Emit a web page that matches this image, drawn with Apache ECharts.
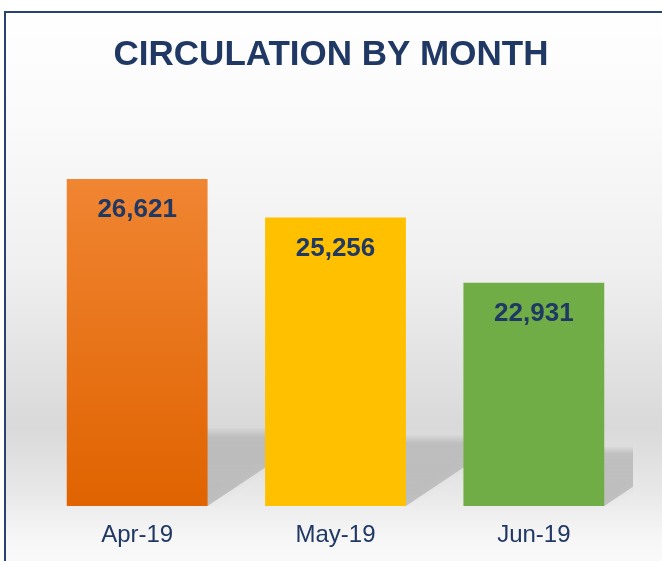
<!DOCTYPE html>
<html>
<head>
<meta charset="utf-8">
<style>
  html, body { margin: 0; padding: 0; background: #fff; }
  #chart { width: 662px; height: 561px; }
</style>
<script src="https://cdn.jsdelivr.net/npm/echarts@6/dist/echarts.min.js"></script>
</head>
<body>
<div id="chart"></div>
<script>
const months = ['Apr-19', 'May-19', 'Jun-19'];
const circulation = [26621, 25256, 22931];
const barColors = [
  ['#F08532', '#E06300'],
  ['#FFC000', '#FFC000'],
  ['#70AD47', '#70AD47']
];
const axisMin = 15000;
const axisMax = 30000;

const navy = '#203864';
const fontFamily = '"Liberation Sans", Arial, sans-serif';

const chart = echarts.init(document.getElementById('chart'));

// floor shadow behind each bar, skewed up to the right
function renderShadow(params, api) {
  const idx = api.value(0);
  const base = api.coord([idx, axisMin]);
  const top = api.coord([idx, api.value(1)]);
  const w = api.size([1, 0])[0] * 0.71;
  const barH = base[1] - top[1];
  const h = barH * 0.18 + 19;
  const dx = h * 1.5;
  const l = base[0] - w / 2, r = base[0] + w / 2, y0 = base[1];
  return {
    type: 'polygon',
    shape: { points: [[l, y0], [r, y0], [r + dx, y0 - h], [l + dx, y0 - h]] },
    style: {
      fill: new echarts.graphic.LinearGradient(0, 0, 0, 1, [
        { offset: 0, color: 'rgba(0,0,0,0.02)' },
        { offset: 0.12, color: 'rgba(0,0,0,0.13)' },
        { offset: 1, color: 'rgba(0,0,0,0.18)' }
      ]),
      shadowBlur: 10,
      shadowColor: 'rgba(0,0,0,0.12)'
    }
  };
}

const option = {
  backgroundColor: '#ffffff',
  animation: false,
  graphic: [
    {
      type: 'rect',
      z: -10,
      shape: { x: 5, y: 12, width: 700, height: 600 },
      style: {
        stroke: '#2b4170',
        lineWidth: 2,
        fill: new echarts.graphic.LinearGradient(0, 0, 0, 1, [
          { offset: 0, color: '#ffffff' },
          { offset: 0.2, color: '#f9f9f9' },
          { offset: 0.42, color: '#f0f0f0' },
          { offset: 0.69, color: '#d9d9d9' },
          { offset: 0.8, color: '#e8e8e8' },
          { offset: 0.88, color: '#f7f7f7' },
          { offset: 1, color: '#fdfdfd' }
        ])
      }
    },
    {
      type: 'text',
      left: 'center',
      top: 38,
      style: {
        text: 'CIRCULATION BY MONTH',
        fill: navy,
        font: 'bold 35px ' + fontFamily
      }
    }
  ],
  grid: { left: 38, right: 29, top: 84, bottom: 55 },
  xAxis: {
    type: 'category',
    data: months,
    axisLine: { show: false },
    axisTick: { show: false },
    axisLabel: {
      color: navy,
      fontSize: 24,
      fontFamily: fontFamily,
      margin: 17
    }
  },
  yAxis: {
    type: 'value',
    min: axisMin,
    max: axisMax,
    show: false,
    splitLine: { show: false }
  },
  series: [
    {
      type: 'custom',
      clip: true,
      z: 1,
      renderItem: renderShadow,
      data: circulation.map((v, i) => [i, v])
    },
    {
      type: 'bar',
      z: 3,
      barWidth: '71%',
      data: circulation.map((v, i) => ({
        value: v,
        itemStyle: {
          color: new echarts.graphic.LinearGradient(0, 0, 0, 1, [
            { offset: 0, color: barColors[i][0] },
            { offset: 1, color: barColors[i][1] }
          ])
        }
      })),
      label: {
        show: true,
        position: 'insideTop',
        distance: 18,
        color: navy,
        fontSize: 26,
        fontWeight: 'bold',
        fontFamily: fontFamily,
        formatter: p => p.value.toLocaleString('en-US')
      }
    }
  ]
};

chart.setOption(option);
</script>
</body>
</html>
